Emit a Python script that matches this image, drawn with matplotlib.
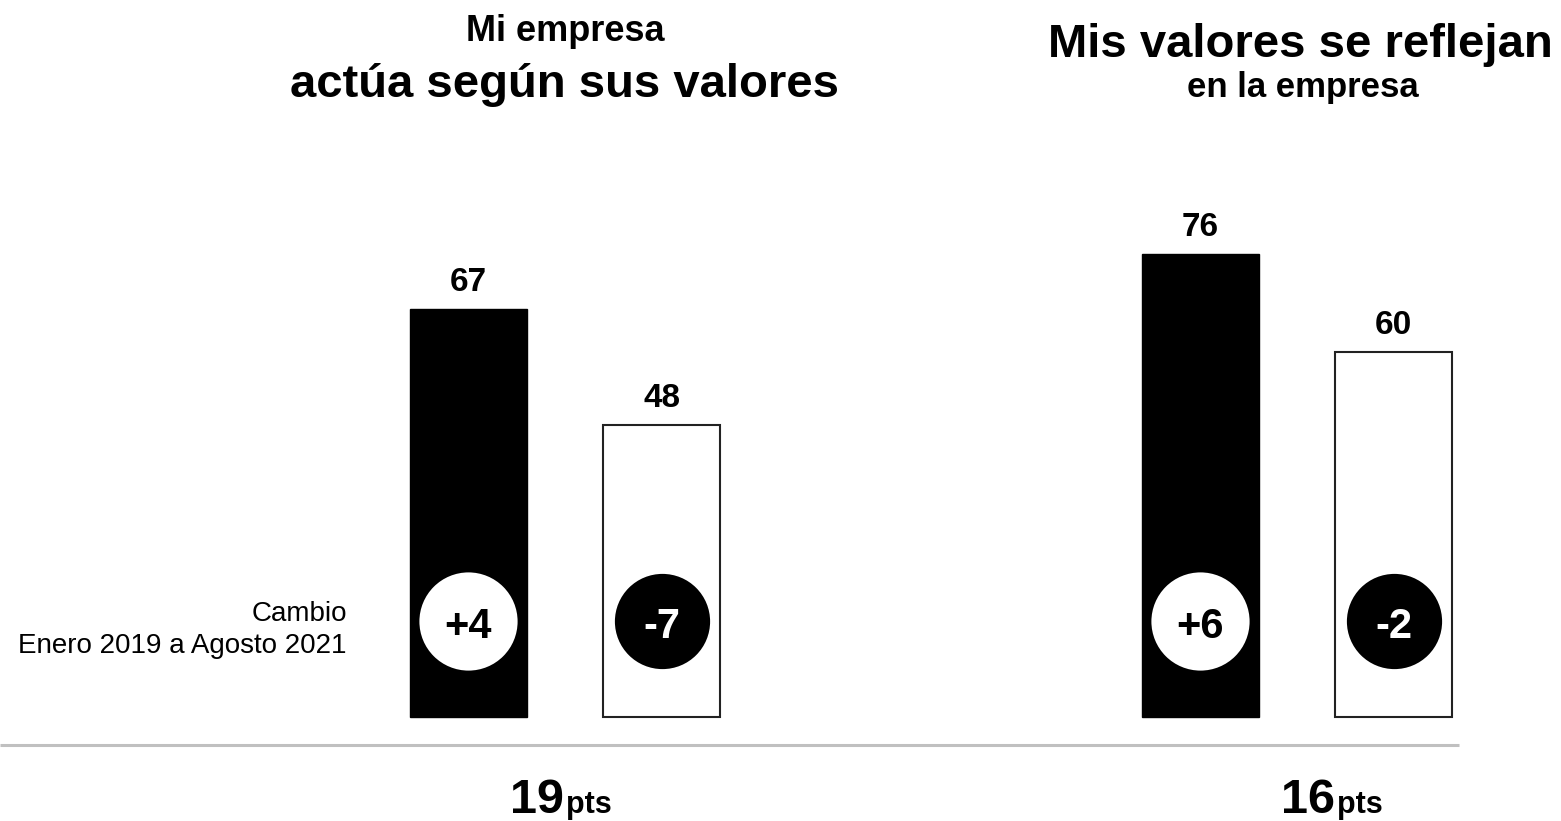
import numpy as np
import matplotlib.pyplot as plt

plt.rcParams['font.family'] = ['Liberation Sans', 'DejaVu Sans']

# data
groups = ['Mi empresa actúa según sus valores', 'Mis valores se reflejan en la empresa']
top_titles = ['Mi empresa', 'Mis valores se reflejan']
sub_titles = ['actúa según sus valores', 'en la empresa']
black_vals = [67, 76]
white_vals = [48, 60]
black_change = ['+4', '+6']
white_change = ['-7', '-2']
gap_pts = ['19', '16']

W, H = 1561, 821
fig = plt.figure(figsize=(W / 100, H / 100), dpi=100)
ax = fig.add_axes([0, 0, 1, 1])

# scale: 732 px between groups, ~6.09 px per point, zero line at 717 px from top
px_x = 732.0
px_y = 6.09
x0 = 565.0
ax.set_xlim(-x0 / px_x, (W - x0) / px_x)
ax.set_ylim(-(H - 717) / px_y, 717 / px_y)
ax.axis('off')

x = np.arange(len(groups))
off = 0.132
bw = 0.16

ax.bar(x - off, black_vals, width=bw, color='black', edgecolor='black', linewidth=1)
ax.bar(x + off, white_vals, width=bw, color='white', edgecolor='#222222', linewidth=1.5)

for i in range(len(groups)):
    ax.annotate(str(black_vals[i]), (x[i] - off, black_vals[i]), xytext=(0, 13),
                textcoords='offset points', ha='center', va='baseline',
                fontsize=24, fontweight='bold')
    ax.annotate(str(white_vals[i]), (x[i] + off, white_vals[i]), xytext=(0, 13),
                textcoords='offset points', ha='center', va='baseline',
                fontsize=24, fontweight='bold')

# change circles
cy = 15.7
ax.scatter(x - off, [cy] * len(x), s=5000, color='white', zorder=3, linewidths=0)
ax.scatter(x + off, [cy] * len(x), s=4700, color='black', zorder=3, linewidths=0)
for i in range(len(groups)):
    ax.text(x[i] - off, cy - 0.9, black_change[i], ha='center', va='center',
            fontsize=30, fontweight='bold', color='black', zorder=4)
    ax.text(x[i] + off, cy - 0.9, white_change[i], ha='center', va='center',
            fontsize=30, fontweight='bold', color='white', zorder=4)

# gray separator
ax.plot([-x0 / px_x, (1459 - x0) / px_x], [-(745 - 717) / px_y] * 2,
        color='#c0c0c0', linewidth=2.2, solid_capstyle='butt')

# titles
fig.text(565 / W, 1 - 41 / H, top_titles[0], ha='center', va='baseline',
         fontsize=26, fontweight='bold')
fig.text(565 / W, 1 - 97 / H, sub_titles[0], ha='center', va='baseline',
         fontsize=34, fontweight='bold')
fig.text(1300 / W, 1 - 57 / H, top_titles[1], ha='center', va='baseline',
         fontsize=34, fontweight='bold')
fig.text(1303 / W, 1 - 97 / H, sub_titles[1], ha='center', va='baseline',
         fontsize=25, fontweight='bold')

# change caption
fig.text(347 / W, 1 - 621 / H, 'Cambio', ha='right', va='baseline', fontsize=20)
fig.text(347 / W, 1 - 653 / H, 'Enero 2019 a Agosto 2021', ha='right', va='baseline', fontsize=20)

# gap in points below each group
gap_x = [564, 1335]
for i in range(len(groups)):
    fig.text(gap_x[i] / W, 1 - 813 / H, gap_pts[i], ha='right', va='baseline',
             fontsize=35, fontweight='bold')
    fig.text((gap_x[i] + 2) / W, 1 - 813 / H, 'pts', ha='left', va='baseline',
             fontsize=22, fontweight='bold')

fig.savefig('out.png', dpi=100)
